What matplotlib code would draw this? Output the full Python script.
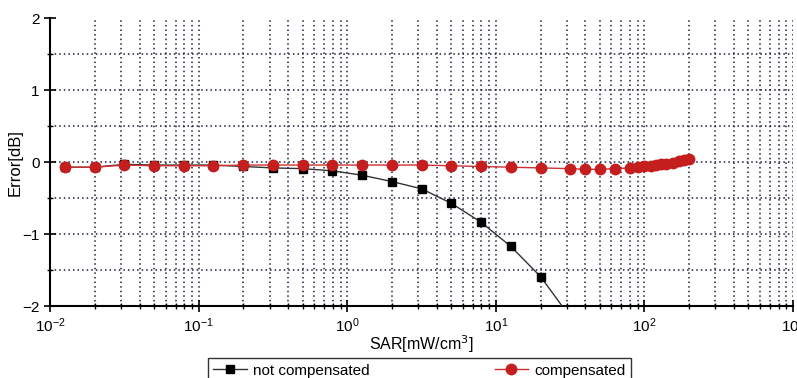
import matplotlib
matplotlib.use("Agg")
import matplotlib.pyplot as plt
from matplotlib.ticker import LogLocator, FixedLocator, NullFormatter

# ---- data ----
sar_nc = [0.0125, 0.02, 0.0316, 0.05, 0.079, 0.125, 0.2, 0.316, 0.5, 0.79,
          1.25, 2.0, 3.16, 5.0, 7.9, 12.6, 20.0, 31.6]
err_nc = [-0.07, -0.07, -0.03, -0.04, -0.04, -0.04, -0.06, -0.08, -0.09, -0.12,
          -0.18, -0.27, -0.37, -0.57, -0.83, -1.17, -1.59, -2.15]

sar_c = [0.0125, 0.02, 0.0316, 0.05, 0.079, 0.125, 0.2, 0.316, 0.5, 0.79,
         1.25, 2.0, 3.16, 5.0, 7.9, 12.6, 20.0, 31.6, 40.0, 50.0, 63.0,
         80.0, 90.0, 100.0, 110.0, 120.0, 130.0, 140.0, 155.0, 170.0, 185.0, 200.0]
err_c = [-0.07, -0.07, -0.04, -0.05, -0.05, -0.05, -0.04, -0.04, -0.04, -0.04,
         -0.04, -0.04, -0.04, -0.05, -0.06, -0.07, -0.08, -0.09, -0.10, -0.10, -0.09,
         -0.08, -0.07, -0.06, -0.05, -0.04, -0.03, -0.02, -0.01, 0.01, 0.03, 0.05]

y_ticks = [-2, -1, 0, 1, 2]
y_minor = [-1.5, -0.5, 0.5, 1.5]
x_label = "SAR[mW/cm$^3$]"
y_label = "Error[dB]"
labels = ["not compensated", "compensated"]

plt.rcParams['font.family'] = ['Liberation Sans', 'DejaVu Sans']

fig = plt.figure(figsize=(7.97, 3.78), dpi=100)
ax = fig.add_axes([0.063, 0.19, 0.932, 0.762])

grid_kw = dict(color='#1a1f3a', linestyle=(0, (1, 2.0)), linewidth=1.1)

ln1, = ax.plot(sar_nc, err_nc, color='#333333', lw=1.0, marker='s',
               markersize=6, markerfacecolor='black', markeredgecolor='black',
               label=labels[0], zorder=3)
ln2, = ax.plot(sar_c, err_c, color='#d03030', lw=1.0, marker='o',
               markersize=7.5, markerfacecolor='#c41e1e', markeredgecolor='#c41e1e',
               label=labels[1], zorder=4)

ax.set_xscale('log')
ax.set_xlim(1e-2, 1e3)
ax.set_ylim(-2, 2)

ax.xaxis.set_major_locator(LogLocator(base=10, numticks=10))
ax.xaxis.set_minor_locator(LogLocator(base=10, subs=range(2, 10), numticks=100))
ax.xaxis.set_minor_formatter(NullFormatter())
ax.yaxis.set_major_locator(FixedLocator(y_ticks))
ax.yaxis.set_minor_locator(FixedLocator(y_minor))

ax.grid(True, which='both', axis='x', **grid_kw)
ax.grid(True, which='both', axis='y', **grid_kw)
ax.set_axisbelow(True)

for s in ['top', 'right']:
    ax.spines[s].set_visible(False)
for s in ['left', 'bottom']:
    ax.spines[s].set_linewidth(1.5)

ax.tick_params(which='major', direction='inout', length=8, width=1.2, labelsize=11)
ax.tick_params(which='minor', direction='inout', length=5, width=1.0)
ax.tick_params(axis='x', which='major', pad=3)

fig.canvas.draw()
for t in ax.yaxis.get_major_ticks():
    if abs(t.get_loc() - 2) < 1e-9:
        t.gridline.set_visible(False)

ax.set_xlabel(x_label, fontsize=11.5, labelpad=-1)
ax.set_ylabel(y_label, fontsize=12, labelpad=0)

leg = fig.legend(handles=[ln1, ln2], labels=labels, loc='upper left',
                 bbox_to_anchor=(0.251, 0.072), ncol=2, frameon=True,
                 fancybox=False, edgecolor='black', fontsize=11,
                 columnspacing=8.2, handlelength=2.2, handletextpad=0.4,
                 borderpad=0.35)
leg.get_frame().set_linewidth(1.0)

fig.savefig('out.png', dpi=100)
